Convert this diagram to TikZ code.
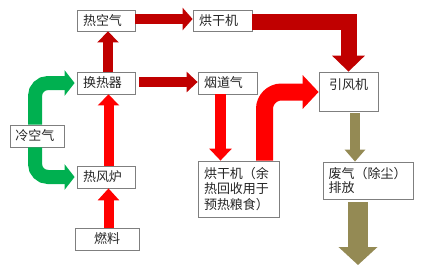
\documentclass[tikz,border=0pt]{standalone}
\usepackage{fontspec}
\setmainfont{Noto Sans CJK SC}
\usetikzlibrary{arrows.meta}
\definecolor{hotred}{RGB}{192,0,0}
\definecolor{firered}{RGB}{255,0,0}
\definecolor{coolgreen}{RGB}{0,176,80}
\definecolor{smoke}{RGB}{148,138,84}
\definecolor{boxgray}{RGB}{127,127,127}
\definecolor{ink}{RGB}{38,38,38}

\begin{document}
\begin{tikzpicture}[x=1pt,y=-1pt,
  box/.style={draw=boxgray,line width=0.8pt,fill=white,inner xsep=6pt,inner ysep=0pt,text=ink,font=\fontsize{13}{15.5}\selectfont},
  lbox/.style={box,align=left,text width=#1},
  shaft/.style={line width=#1},
  blockhead/.style 2 args={-{Triangle[width=#1,length=#2]}}]
\useasboundingbox (0,0) rectangle (424,274);
\node[lbox=46pt,minimum height=21pt] (reheat) at (106,20.5) {热空气};
\node[lbox=47pt,minimum height=21pt] (dryer) at (222.5,20.5) {烘干机};
\node[lbox=46pt,minimum height=22pt] (exch) at (106,83) {换热器};
\node[lbox=47pt,minimum height=22pt] (flue) at (227.5,83) {烟道气};
\node[box,minimum width=59pt,text height=13pt,text depth=18pt,inner ysep=4pt] (fan) at (348.5,91.5) {引风机};
\node[lbox=43pt,minimum height=22pt,inner xsep=5.5pt] (cold) at (37,136) {冷空气};
\node[lbox=46pt,minimum height=22pt] (furnace) at (106,177) {热风炉};
\node[box,minimum width=64pt,minimum height=22pt] (fuel) at (107,239) {燃料};
\node[lbox=69pt,minimum height=56pt] (waste) at (238.5,189) {烘干机（余\\热回收用于\\预热粮食）};
\node[lbox=79pt,minimum height=37pt,inner xsep=5.5pt,font=\fontsize{13}{14}\selectfont] (exhaust) at (368,180.5) {废气（除尘）\\排放};
\coordinate (out) at (358,265);
\draw[hotred,shaft=10pt,blockhead={21pt}{11pt}] ([xshift=2pt]exch.north) -- ([xshift=2pt]reheat.south);
\draw[hotred,shaft=10pt,blockhead={22pt}{10pt}] ([yshift=1.5pt]reheat.east) -- ([yshift=1.5pt]dryer.west);
\draw[hotred,shaft=10pt,blockhead={20pt}{11pt}] ([xshift=4pt,yshift=1pt]exch.east) -- ([yshift=1pt]flue.west);
\draw[hotred,shaft=16pt,blockhead={32pt}{16pt}] ([yshift=-1pt]dryer.east) -| (fan.north);
\draw[firered,shaft=10pt,blockhead={21pt}{11pt}] ([xshift=2.5pt]furnace.north) -- ([xshift=2.5pt]exch.south);
\draw[firered,shaft=10pt,blockhead={21pt}{12pt}] ([xshift=1.5pt]fuel.north) -- ([xshift=2.5pt]furnace.south);
\draw[firered,shaft=11pt,blockhead={22pt}{12pt}] ([xshift=-7pt]flue.south) -- ([xshift=-18pt]waste.north);
\draw[firered,shaft=17pt,blockhead={33pt}{16pt},rounded corners=17pt] ([xshift=26pt]waste.north) |- ([yshift=-0.5pt]fan.west);
\draw[coolgreen,shaft=14pt,blockhead={25pt}{10pt},rounded corners=13pt] ([xshift=-2pt]cold.north) |- ([xshift=-2pt]exch.west);
\draw[coolgreen,shaft=14pt,blockhead={25pt}{10pt},rounded corners=13pt] ([xshift=-2pt]cold.south) |- ([xshift=-2pt]furnace.west);
\draw[smoke,shaft=10pt,blockhead={20pt}{12pt}] ([xshift=6.5pt,yshift=-2pt]fan.south) -- ([xshift=-13pt]exhaust.north);
\draw[smoke,shaft=20pt,blockhead={38pt}{18pt}] ([xshift=-10pt,yshift=-3pt]exhaust.south) -- (out);
\end{tikzpicture}
\end{document}
